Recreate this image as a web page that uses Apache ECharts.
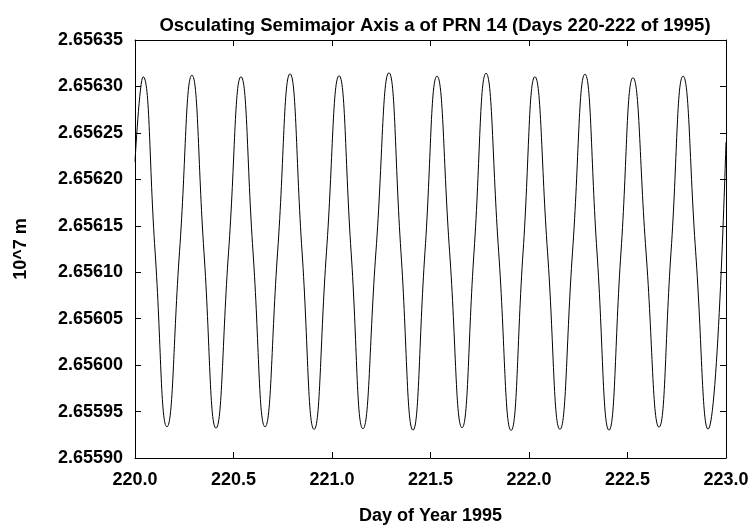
<!DOCTYPE html>
<html>
<head>
<meta charset="utf-8">
<script src="https://cdn.jsdelivr.net/npm/echarts@6/dist/echarts.min.js"></script>
<style>
  html, body { margin: 0; padding: 0; background: #fff; }
  #main { width: 752px; height: 530px; }
</style>
</head>
<body>
<div id="main"></div>
<script>
// day of year (extrema and mid-crossings)
var days = [
  220.000, 220.041, 220.102, 220.162, 220.226, 220.289, 220.350, 220.411,
  220.475, 220.538, 220.599, 220.660, 220.724, 220.787, 220.848, 220.909,
  220.972, 221.036, 221.097, 221.157, 221.223, 221.289, 221.350, 221.411,
  221.472, 221.533, 221.597, 221.660, 221.721, 221.782, 221.846, 221.909,
  221.970, 222.030, 222.094, 222.157, 222.221, 222.284, 222.345, 222.406,
  222.467, 222.528, 222.594, 222.660, 222.721, 222.782, 222.846, 222.909,
  223.000
];
// semimajor axis, 10^7 m
var semiMajor = [
  2.656219, 2.6563104, 2.656122, 2.6559336, 2.656122, 2.6563121, 2.656122, 2.6559322,
  2.656122, 2.6563104, 2.656122, 2.6559336, 2.656122, 2.6563136, 2.656122, 2.6559308,
  2.656122, 2.6563115, 2.656122, 2.6559315, 2.656122, 2.6563147, 2.656122, 2.6559300,
  2.656122, 2.6563111, 2.656122, 2.6559326, 2.656122, 2.6563142, 2.656122, 2.6559297,
  2.656122, 2.6563104, 2.656122, 2.6559308, 2.656122, 2.6563132, 2.656122, 2.6559300,
  2.656122, 2.6563094, 2.656122, 2.6559332, 2.656122, 2.6563111, 2.656122, 2.6559311,
  2.656240
];
var xTicks = { min: 220, max: 223, interval: 0.5 };
var yTicks = { min: 2.65590, max: 2.65635, interval: 0.00005 };

var font = "'Liberation Sans', Arial, sans-serif";
var chart = echarts.init(document.getElementById("main"));

var points = days.map(function (d, i) { return [d, semiMajor[i]]; });

var frameLine = { show: true, onZero: false, lineStyle: { color: "#000", width: 1 } };
var inTick = { show: true, inside: true, length: 6, lineStyle: { color: "#000", width: 1 } };

chart.setOption({
  animation: false,
  title: {
    text: "Osculating Semimajor Axis a of PRN 14 (Days 220-222 of 1995)",
    left: 430,
    textAlign: "center",
    top: 11,
    textStyle: { fontFamily: font, fontWeight: "bold", fontSize: 18.5, color: "#000" }
  },
  grid: { left: 135, right: 26, top: 40, bottom: 66 },
  xAxis: [
    {
      type: "value",
      min: xTicks.min, max: xTicks.max, interval: xTicks.interval,
      name: "Day of Year 1995",
      nameLocation: "middle",
      nameGap: 49,
      nameTextStyle: { fontFamily: font, fontWeight: "bold", fontSize: 18, color: "#000" },
      axisLine: frameLine,
      axisTick: inTick,
      splitLine: { show: false },
      axisLabel: {
        margin: 13,
        fontFamily: font, fontWeight: "bold", fontSize: 18, color: "#000",
        formatter: function (v) { return v.toFixed(1); }
      }
    },
    {
      type: "value", position: "top",
      min: xTicks.min, max: xTicks.max, interval: xTicks.interval,
      axisLine: frameLine, axisTick: inTick,
      axisLabel: { show: false }, splitLine: { show: false }
    }
  ],
  yAxis: [
    {
      type: "value",
      min: yTicks.min, max: yTicks.max, interval: yTicks.interval,
      name: "10^7 m",
      nameLocation: "middle",
      nameGap: 105,
      nameTextStyle: { fontFamily: font, fontWeight: "bold", fontSize: 18, color: "#000" },
      axisLine: frameLine,
      axisTick: inTick,
      splitLine: { show: false },
      axisLabel: {
        margin: 12,
        fontFamily: font, fontWeight: "bold", fontSize: 18, color: "#000",
        formatter: function (v) { return v.toFixed(5); }
      }
    },
    {
      type: "value", position: "right",
      min: yTicks.min, max: yTicks.max, interval: yTicks.interval,
      axisLine: frameLine, axisTick: inTick,
      axisLabel: { show: false }, splitLine: { show: false }
    }
  ],
  series: [
    {
      type: "line",
      data: points,
      smooth: 0.5,
      showSymbol: false,
      lineStyle: { color: "#000", width: 1 }
    }
  ]
});
</script>
</body>
</html>
